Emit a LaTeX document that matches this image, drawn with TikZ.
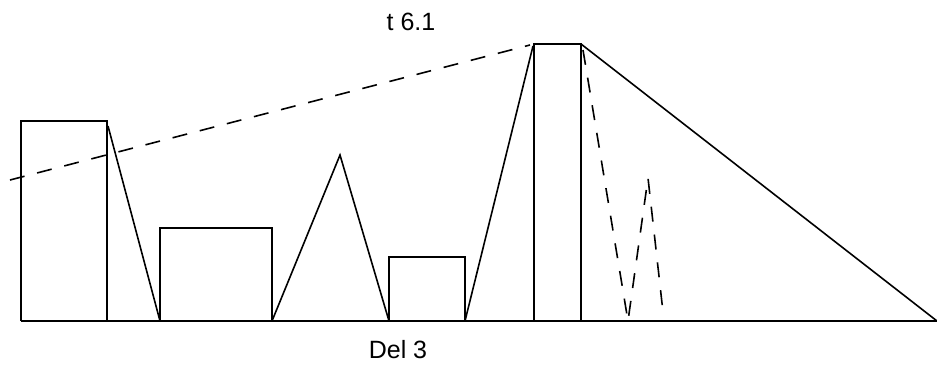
\documentclass[tikz,border=0pt]{standalone}
\usepackage{fontspec}
\setmainfont{Liberation Sans}
\begin{document}
\begin{tikzpicture}[x=1pt,y=-1pt,
  solidline/.style={line width=1.6pt,line join=miter},
  dashline/.style={line width=1.6pt,dash pattern=on 15pt off 13pt},
  lbl/.style={font=\fontsize{25}{30}\selectfont,inner sep=0pt}]
\useasboundingbox (0,0) rectangle (937,369);
% baseline
\coordinate (b0) at (21,321);
\coordinate (b1) at (937,321);
\draw[solidline] (b0) -- (b1);
% boxes
\draw[solidline] (21,321) -- (21,121) -- (107,121) -- (107,321);
\draw[solidline] (160,321) -- (160,228) -- (272,228) -- (272,321);
\draw[solidline] (389,321) -- (389,257) -- (465,257) -- (465,321);
\draw[solidline] (534,321) -- (534,44) -- (581,44) -- (581,321);
% slanted lines
\draw[solidline] (108,126) -- (160,321);
\draw[solidline] (272,321) -- (340,155) -- (389,321);
\draw[solidline] (465,321) -- (533,46);
\draw[solidline] (581,44) -- (937,321);
% dashed lines
\draw[dashline] (10,180) -- (530,45);
\draw[dashline] (583,50) -- (628,321) -- (648,178) -- (663,312);
% labels
\node[lbl] (t) at (411,22) {t 6.1};
\node[lbl] (d) at (398,350) {Del 3};
\end{tikzpicture}
\end{document}
